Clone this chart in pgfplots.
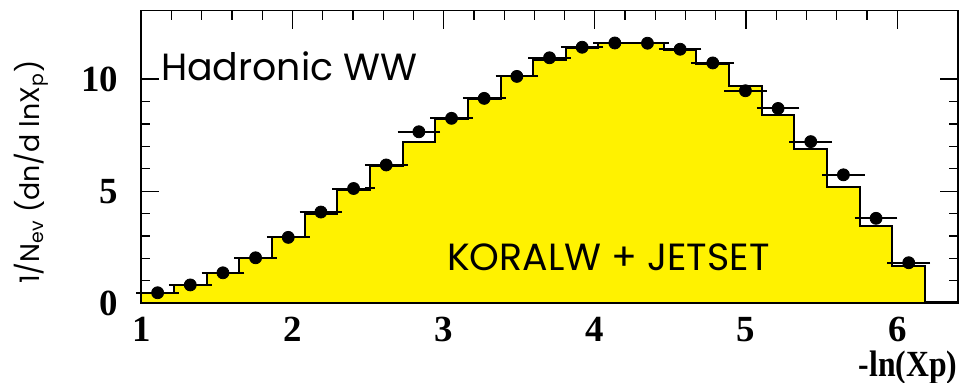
\documentclass[border=0pt]{standalone}
\usepackage{fontspec}
\setmainfont{Liberation Serif}
\newfontfamily\gfont{Poppins}
\usepackage{pgfplots}
\pgfplotsset{compat=1.18}
\usepackage{pgfplotstable}
\usetikzlibrary{calc}

% Monte Carlo prediction: left bin edge and height (last row closes the final bin)
\pgfplotstableread{
x h
1.000 0.47
1.216 0.82
1.432 1.34
1.648 2.03
1.864 2.94
2.080 4.00
2.296 5.05
2.512 6.13
2.728 7.20
2.944 8.24
3.160 9.11
3.376 10.12
3.592 10.84
3.808 11.39
4.024 11.61
4.240 11.61
4.456 11.31
4.672 10.69
4.888 9.69
5.104 8.39
5.320 6.87
5.536 5.19
5.752 3.46
5.968 1.68
6.184 0.07
6.400 0.07
}\mctable

% Measured points: bin centre, value, half bin width
\pgfplotstableread{
x y ex
1.108 0.47 0.108
1.324 0.82 0.108
1.540 1.36 0.108
1.756 2.03 0.108
1.972 2.94 0.108
2.188 4.07 0.108
2.404 5.12 0.108
2.620 6.17 0.108
2.836 7.65 0.108
3.052 8.25 0.108
3.268 9.14 0.108
3.484 10.12 0.108
3.700 10.95 0.108
3.916 11.42 0.108
4.132 11.61 0.108
4.348 11.60 0.108
4.564 11.33 0.108
4.780 10.72 0.108
4.996 9.48 0.108
5.212 8.69 0.108
5.428 7.21 0.108
5.644 5.73 0.108
5.860 3.79 0.108
6.076 1.81 0.108
}\datatable

\begin{document}
\begin{tikzpicture}
\begin{axis}[
  name=ax,
  scale only axis,
  width=408.2bp, height=146.3bp,
  xmin=1, xmax=6.4, ymin=0, ymax=13.05,
  xtick={1,2,3,4,5,6}, ytick={0,5,10},
  minor x tick num=4, minor y tick num=4,
  tick align=inside,
  major tick length=9bp, minor tick length=4.5bp,
  every tick/.style={black, line width=0.6bp},
  axis line style={line width=0.8bp},
  /pgf/number format/assume math mode=true,
  tick label style={font=\bfseries\fontsize{18.5}{18.5}\selectfont},
  xticklabel style={anchor=north, inner sep=0pt, yshift=-6.7bp},
  yticklabel style={anchor=east, inner sep=0pt, xshift=-11.5bp},
  xlabel={-ln(Xp)},
  xlabel style={font=\bfseries\fontsize{18.5}{18.5}\selectfont, xscale=0.86,
    at={(rel axis cs:1,0)}, anchor=south east, inner sep=0pt, yshift=-40.5bp},
  clip=false,
]
\addplot[const plot, fill=yellow, draw=black, line width=1bp]
  table[x=x, y=h] {\mctable} \closedcycle;
\addplot[only marks, mark=*, mark size=3bp, black,
  error bars/.cd, x dir=both, x explicit,
  error bar style={line width=1bp},
  error mark options={line width=1bp, mark size=2.5bp}]
  table[x=x, y=y, x error=ex] {\datatable};
\node[anchor=base west, inner sep=0pt, font=\gfont\fontsize{19}{19}\selectfont]
  at (axis cs:1.128,9.95) {Hadronic WW};
\node[anchor=base west, inner sep=0pt, font=\gfont\fontsize{19}{19}\selectfont]
  at (axis cs:3.02,1.48) {KORALW + JETSET};
\end{axis}
% vertical axis title
\node[rotate=90, anchor=center, inner sep=0pt, font=\gfont\fontsize{13.5}{13.5}\selectfont]
  at ($(ax.south west)!0.448!(ax.north west)+(-55bp,0)$)
  {1/N\textsubscript{ev} (dn/d lnX\textsubscript{p})};
\pgfresetboundingbox
\useasboundingbox ($(ax.south west)+(-70.65bp,-39.85bp)$) rectangle ++(480.5bp,191.5bp);
\end{tikzpicture}
\end{document}
